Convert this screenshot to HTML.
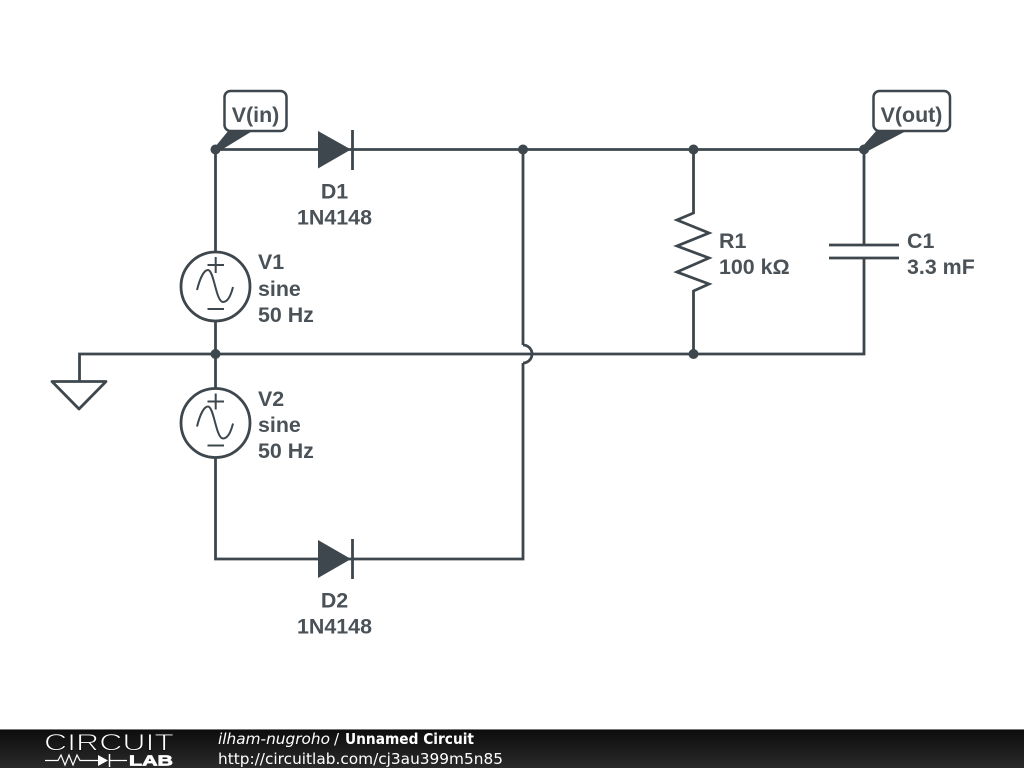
<!DOCTYPE html>
<html><head><meta charset="utf-8"><style>
html,body{margin:0;padding:0;background:#fff;width:1024px;height:768px;overflow:hidden}
svg{display:block}
.l{font-family:"Liberation Sans",sans-serif;font-weight:bold;font-size:21.4px;fill:#4a5257}
.f{font-family:"DejaVu Sans",sans-serif;font-size:15px;fill:#fff}
</style></head><body>
<svg width="1024" height="768" viewBox="0 0 1024 768" xmlns="http://www.w3.org/2000/svg">
<defs><linearGradient id="g" x1="0" y1="0" x2="0" y2="1"><stop offset="0" stop-color="#0c0c0c"/><stop offset="1" stop-color="#2a2a2a"/></linearGradient></defs>
<g fill="none" stroke="#3d474d" stroke-width="2.8">
<path d="M215.5 149.5H864"/>
<path d="M215.5 149.5V252"/>
<path d="M215.5 321V388"/>
<path d="M215.5 457V559H523V363"/>
<path d="M523 149.5V345"/>
<path d="M523 345A9 9 0 0 1 523 363"/>
<path d="M79.500 381V354H864V149.500"/>
<path d="M52 381.500H106L79 409Z" stroke-linejoin="round"/>
<circle cx="215.500" cy="286.500" r="34.500"/>
<circle cx="215.500" cy="423" r="34.500"/>
</g>
<rect x="826" y="246" width="76" height="12" fill="#fff"/>
<g fill="none" stroke="#3d474d" stroke-width="2.8">
<path d="M693.500 149.500V213L677 220 709 233 677 246 709 258 677 272 709 284 693.500 291V354" stroke-linejoin="miter"/>
<path d="M829 245H899M829 258H899"/>
<path d="M352.500 130V170M352.500 539V579" />
</g>
<g fill="none" stroke="#3d474d" stroke-width="2">
<path d="M207.500 265H224M215.700 257V273M207.500 309H224"/>
<path d="M197 290C200 278 204 270 208 270C214 270 216 302 223 302C228 302 231 295 233 287"/>
<path d="M207.500 401.500H224M215.700 393.500V409.500M207.500 445.500H224"/>
<path d="M197 426.500C200 414.500 204 406.500 208 406.500C214 406.500 216 438.500 223 438.500C228 438.500 231 431.500 233 423.500"/>
</g>
<g fill="#3d474d">
<path d="M318 131L351 149.500 318 168.500Z"/>
<path d="M318 540L351 559 318 578Z"/>
<circle cx="215.500" cy="149.500" r="5"/>
<circle cx="523" cy="149.500" r="5"/>
<circle cx="693.500" cy="149.500" r="5"/>
<circle cx="864" cy="149.500" r="5"/>
<circle cx="215.500" cy="354" r="5"/>
<circle cx="693.500" cy="354" r="5"/>
<path d="M215 147L229 130H254L218 152Z"/>
<path d="M862 147L877 130H908L866 152Z"/>
</g>
<g fill="#fff" stroke="#3d474d" stroke-width="2.500">
<rect x="224.500" y="91" width="62" height="40" rx="6"/>
<rect x="873.500" y="91" width="76.500" height="40" rx="6"/>
</g>
<g>
<text class="l" x="255.500" y="122" text-anchor="middle">V(in)</text>
<text class="l" x="911.500" y="122" text-anchor="middle">V(out)</text>
<text class="l" x="334.500" y="198.500" text-anchor="middle">D1</text>
<text class="l" x="334.500" y="224.500" text-anchor="middle">1N4148</text>
<text class="l" x="334.500" y="607.500" text-anchor="middle">D2</text>
<text class="l" x="334.500" y="633.500" text-anchor="middle">1N4148</text>
<text class="l" x="258" y="269">V1</text>
<text class="l" x="258" y="296">sine</text>
<text class="l" x="258" y="322">50 Hz</text>
<text class="l" x="258" y="406">V2</text>
<text class="l" x="258" y="432">sine</text>
<text class="l" x="258" y="458">50 Hz</text>
<text class="l" x="719" y="248">R1</text>
<text class="l" x="719" y="274">100 kΩ</text>
<text class="l" x="907" y="248">C1</text>
<text class="l" x="907" y="274">3.3 mF</text>
</g>
<rect x="0" y="729" width="1024" height="39" fill="url(#g)"/>
<rect x="0" y="729" width="1024" height="1" fill="#777"/>
<text x="44" y="750.500" font-family="Liberation Sans,sans-serif" font-size="24.500" fill="#fff" stroke="#141414" stroke-width="0.900" textLength="130" lengthAdjust="spacingAndGlyphs">CIRCUIT</text>
<path d="M45 760.500H58L61 755 65 765 69 755 73 765 77 755 80 760.500H98M110 760.500H127" fill="none" stroke="#fff" stroke-width="1.200"/>
<path d="M98 755L108 760.500 98 766Z" fill="#fff"/>
<path d="M109.500 754V767" stroke="#fff" stroke-width="1.500"/>
<text x="129" y="765.500" font-family="Liberation Sans,sans-serif" font-size="15" font-weight="bold" fill="#fff" stroke="#fff" stroke-width="0.700" textLength="44" lengthAdjust="spacingAndGlyphs">LAB</text>
<text class="f" x="218" y="744" font-style="italic" textLength="112" lengthAdjust="spacingAndGlyphs">ilham-nugroho</text>
<text class="f" x="334" y="744">/</text>
<text class="f" x="345" y="744" font-weight="bold" textLength="129" lengthAdjust="spacingAndGlyphs">Unnamed Circuit</text>
<text class="f" x="218" y="764" textLength="285" lengthAdjust="spacingAndGlyphs">http://circuitlab.com/cj3au399m5n85</text>
</svg>
</body></html>
